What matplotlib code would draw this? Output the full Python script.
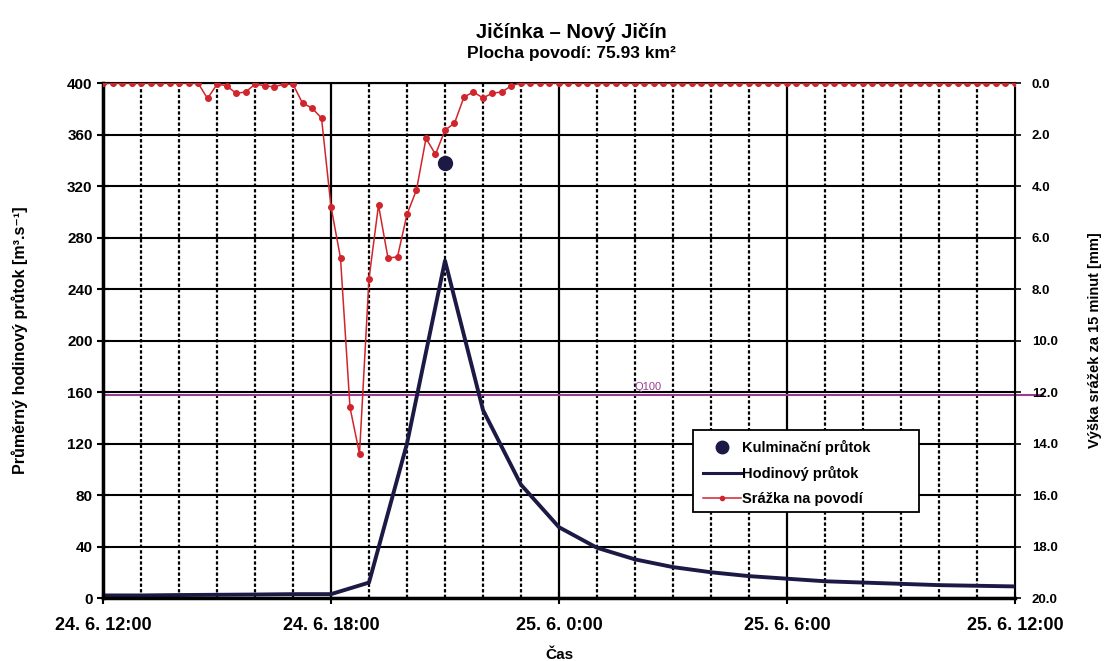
import numpy as np
import matplotlib
matplotlib.use('Agg')
import matplotlib.pyplot as plt
from matplotlib.lines import Line2D
from matplotlib.patches import Rectangle

plt.rcParams['font.family'] = ['Liberation Sans', 'DejaVu Sans']
plt.rcParams['font.weight'] = 'bold'

# Data: time in hours from 24. 6. 12:00
flow_hours = list(range(0, 25))
flow = [2, 2, 2.3, 2.5, 2.7, 3, 3, 12, 120, 262, 146, 88, 55, 39, 30, 24,
        20, 17, 15, 13, 12, 11, 10, 9.5, 9]

peak_hour = 9
peak_flow = 338

q100 = 158

# rain per 15 minutes [mm], 97 values 12:00 .. 12:00
rain_head = [0, 0, 0, 0, 0, 0, 0, 0, 0, 0, 0, 0.6, 0.05, 0.1, 0.4, 0.35,
             0.05, 0.1, 0.15, 0.05, 0.05, 0.78, 0.97, 1.36, 4.8, 6.8, 12.6,
             14.4, 7.6, 4.74, 6.8, 6.75, 5.1, 4.15, 2.15, 2.77, 1.83, 1.56,
             0.54, 0.35, 0.58, 0.39, 0.35, 0.1]
rain = rain_head + [0] * (97 - len(rain_head))
rain_hours = [i * 0.25 for i in range(97)]

xtick_pos = [0, 6, 12, 18, 24]
xtick_lab = ['24. 6. 12:00', '24. 6. 18:00', '25. 6. 0:00', '25. 6. 6:00', '25. 6. 12:00']

navy = '#1c1a45'
red = '#d0252c'
purple = '#9a3d8f'

fig = plt.figure(figsize=(11.1, 6.61), dpi=100)
ax = fig.add_axes([0.0928, 0.0953, 0.8216, 0.7791])
ax2 = ax.twinx()

# grid
for h in range(1, 24):
    if h % 6 == 0:
        ax.axvline(h, color='black', lw=1.6, zorder=1)
    else:
        ax.axvline(h, color='black', lw=1.6, ls=(0, (1.5, 1)), zorder=1)
for v in range(40, 401, 40):
    ax.axhline(v, color='black', lw=1.5, zorder=1)

# Q100 line runs a little past the right axis, like in the original
ax.plot([0, 24.75], [q100, q100], color=purple, lw=1.5, zorder=2, clip_on=False)
ax.text(14.0, q100 + 2, 'Q100', color=purple, fontsize=8, fontweight='normal',
        ha='left', va='bottom')

ax.plot(flow_hours, flow, color=navy, lw=2.8, zorder=4)
ax.plot([peak_hour], [peak_flow], 'o', color=navy, ms=10, zorder=5)

ax2.plot(rain_hours, rain, color=red, lw=1.1, marker='o', ms=4, zorder=3)

ax.set_xlim(0, 24)
ax.set_ylim(0, 400)
ax.set_yticks(range(0, 401, 40))
ax.set_xticks(xtick_pos)
ax.set_xticklabels(xtick_lab)
ax2.set_ylim(20, 0)
ax2.set_yticks(np.arange(0, 20.1, 2))
ax2.set_yticklabels(['%.1f' % v for v in np.arange(0, 20.1, 2)])

ax.tick_params(axis='both', direction='inout', length=8, width=1.5, labelsize=11)
ax.tick_params(axis='x', pad=10, labelsize=13)
ax2.tick_params(axis='y', direction='inout', length=8, width=1.2, labelsize=9.5, pad=8)

for sp in ax.spines.values():
    sp.set_linewidth(1.5)
ax2.spines['left'].set_linewidth(2.5)
ax2.spines['bottom'].set_linewidth(2.5)

ax.set_xlabel('Čas', fontsize=11, fontweight='bold', labelpad=10)
ax.set_ylabel('Průměrný hodinový průtok [m³.s⁻¹]', fontsize=11.5,
              fontweight='bold', labelpad=28)
ax2.set_ylabel('Výška srážek za 15 minut [mm]', fontsize=10.5, fontweight='bold',
               labelpad=22)

fig.text(0.515, 0.942, 'Jičínka – Nový Jičín', ha='center', fontsize=14.5, fontweight='bold')
fig.text(0.515, 0.912, 'Plocha povodí: 75.93 km²', ha='center', fontsize=12.5, fontweight='bold')

# legend box
ax2.add_patch(Rectangle((0.647, 0.167), 0.248, 0.159, transform=ax2.transAxes,
                        facecolor='white', edgecolor='black', lw=1.3, zorder=6))
handles = [Line2D([], [], color=navy, marker='o', ls='none', ms=9),
           Line2D([], [], color=navy, lw=2.2),
           Line2D([], [], color=red, lw=1.1, marker='o', ms=3)]
labels = ['Kulminační průtok', 'Hodinový průtok', 'Srážka na povodí']
leg = ax2.legend(handles, labels, loc='upper left', bbox_to_anchor=(0.647, 0.326),
                 frameon=False, fontsize=10.5, handlelength=2.6, handletextpad=0.05,
                 borderpad=0.7, labelspacing=0.75, borderaxespad=0)
leg.set_zorder(7)
for t in leg.get_texts():
    t.set_fontweight('bold')

fig.savefig('out.png', dpi=100)
